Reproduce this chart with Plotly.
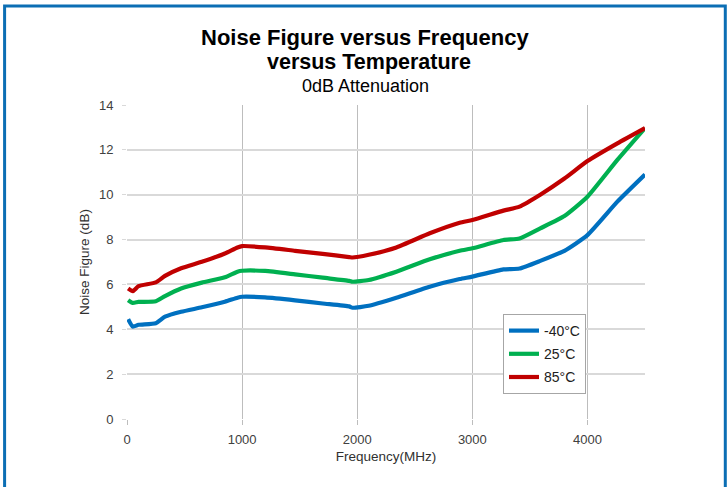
import plotly.graph_objects as go

# Frequencies (MHz) at which the curves were read
freq_mhz = [10, 50, 100, 250, 330, 470, 650, 850, 960, 1000, 1200, 1460, 1700,
            1930, 1960, 2100, 2340, 2630, 2890, 3000, 3270, 3410, 3590, 3800,
            4000, 4260, 4500]

# Noise figure (dB) per temperature
nf_m40 = [4.45, 4.12, 4.2, 4.27, 4.56, 4.78, 4.98, 5.23, 5.41, 5.45, 5.42, 5.29, 5.15,
          5.02, 4.96, 5.05, 5.41, 5.9, 6.24, 6.35, 6.67, 6.71, 7.05, 7.5,
          8.2, 9.69, 10.9]
nf_25 = [5.3, 5.18, 5.22, 5.25, 5.48, 5.82, 6.08, 6.32, 6.57, 6.61, 6.6, 6.45, 6.3,
         6.16, 6.12, 6.2, 6.57, 7.12, 7.5, 7.61, 7.98, 8.05, 8.5, 9.05,
         9.91, 11.55, 12.97]
nf_85 = [5.82, 5.7, 5.92, 6.09, 6.38, 6.72, 7.01, 7.38, 7.65, 7.71, 7.65, 7.5, 7.36,
         7.22, 7.2, 7.32, 7.65, 8.28, 8.75, 8.87, 9.29, 9.47, 10.0, 10.72,
         11.5, 12.29, 12.97]

series_names = ["-40°C", "25°C", "85°C"]
series_colors = ["#0070c0", "#00b050", "#c00000"]

x_ticks = [0, 1000, 2000, 3000, 4000]
y_ticks = [0, 2, 4, 6, 8, 10, 12, 14]

FONT = "Liberation Sans, Arial, sans-serif"

fig = go.Figure()
for i, (name, vals, col) in enumerate(zip(series_names, [nf_m40, nf_25, nf_85], series_colors)):
    fig.add_trace(go.Scatter(
        x=freq_mhz, y=vals, name=name, mode="lines",
        line=dict(color=col, width=4.2, shape="spline", smoothing=0.5),
        legendgroup=f"g{i}",
    ))

W, H = 727, 487
L, R, T, B = 127, 82, 105, 68
pw, ph = W - L - R, H - T - B


def px_x(px):
    return (px - L) / pw


def px_y(py):
    return (H - B - py) / ph


fig.update_layout(
    width=W, height=H,
    margin=dict(l=L, r=R, t=T, b=B, pad=0),
    paper_bgcolor="white", plot_bgcolor="white",
    font=dict(family=FONT, size=13, color="#404040"),
    showlegend=True,
    legend=dict(
        x=px_x(503), y=px_y(314), xanchor="left", yanchor="top",
        bgcolor="white", bordercolor="#a6a6a6", borderwidth=1,
        font=dict(family=FONT, size=14, color="#202020"),
        traceorder="grouped", tracegroupgap=2, itemwidth=30,
    ),
    xaxis=dict(
        range=[0, 4500], tickvals=x_ticks, showgrid=True, gridcolor="#bdbdbd",
        gridwidth=1, zeroline=False, showline=False, ticks="outside", ticklen=5,
        tickcolor="#bdbdbd", ticklabelstandoff=3,
        tickfont=dict(size=13, color="#404040"),
        title=dict(text="Frequency(MHz)", font=dict(size=13.5, color="#303030"), standoff=5),
    ),
    yaxis=dict(
        range=[0, 14], tickvals=y_ticks, showgrid=True, gridcolor="#d9d9d9",
        gridwidth=1.5, zeroline=False, showline=False, ticks="outside", ticklen=4,
        tickcolor="#d9d9d9", ticklabelstandoff=6,
        tickfont=dict(size=13, color="#404040"),
        title=dict(text="Noise Figure (dB)", font=dict(size=13.5, color="#303030"), standoff=6),
    ),
    shapes=[dict(
        type="rect", xref="paper", yref="paper",
        x0=px_x(4.6), x1=px_x(725.3), y0=px_y(495), y1=px_y(6),
        line=dict(color="#0b6eb4", width=3), fillcolor="rgba(0,0,0,0)",
    )],
    annotations=[
        dict(text="<b>Noise Figure versus Frequency</b>", xref="paper", yref="paper",
             x=px_x(365), y=px_y(37), xanchor="center", yanchor="middle",
             showarrow=False, font=dict(family=FONT, size=22, color="black")),
        dict(text="<b>versus Temperature</b>", xref="paper", yref="paper",
             x=px_x(369), y=px_y(62), xanchor="center", yanchor="middle",
             showarrow=False, font=dict(family=FONT, size=21.5, color="black")),
        dict(text="0dB Attenuation", xref="paper", yref="paper",
             x=px_x(365), y=px_y(86), xanchor="center", yanchor="middle",
             showarrow=False, font=dict(family=FONT, size=18, color="black")),
    ],
)

fig.write_html(
    "out.html",
    config={"displayModeBar": False},
    post_script="document.body.style.margin='0';document.body.style.overflow='hidden';",
)
